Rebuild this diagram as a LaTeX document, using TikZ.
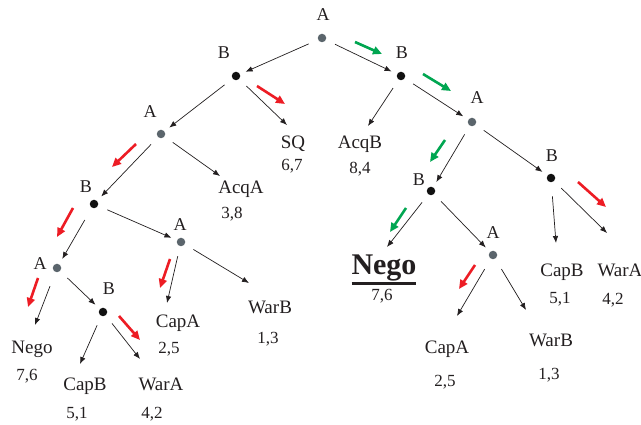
\documentclass[tikz,border=0pt]{standalone}
\usepackage{fontspec}
\setmainfont{Liberation Serif}
\usetikzlibrary{arrows.meta}
\definecolor{txt}{HTML}{231F20}
\definecolor{dotA}{HTML}{5B656C}
\definecolor{dotB}{HTML}{111111}
\definecolor{redarr}{HTML}{ED1C24}
\definecolor{greenarr}{HTML}{00A651}
\tikzset{
  adot/.style={circle,fill=dotA,inner sep=0pt,minimum size=8.5pt},
  bdot/.style={circle,fill=dotB,inner sep=0pt,minimum size=8.5pt},
  plab/.style={text=txt,font=\fontsize{18}{18}\selectfont,inner sep=0pt,anchor=base},
  leaf/.style={text=txt,font=\fontsize{19}{19}\selectfont,inner sep=0pt,anchor=base},
  pay/.style={text=txt,font=\fontsize{17}{17}\selectfont,inner sep=0pt,anchor=base},
  edge/.style={draw=txt,line width=0.7pt,-{Latex[length=7pt,width=5.5pt]},shorten <=10pt},
  todot/.style={shorten >=6pt},
  hint/.style={line width=2.6pt,-{Triangle[length=9pt,width=8pt]}},
  redhint/.style={hint,draw=redarr,color=redarr},
  greenhint/.style={hint,draw=greenarr,color=greenarr}
}
\begin{document}
\begin{tikzpicture}[x=1pt,y=-1pt]
\path[use as bounding box,fill=white] (0,0) rectangle (641,425);
% decision nodes
\node[adot] (root) at (322,38) {};
\node[bdot] (b1) at (236,76) {};
\node[bdot] (b2) at (401,76) {};
\node[adot] (a1) at (161,134) {};
\node[adot] (a2) at (472,122) {};
\node[bdot] (b3) at (94,204) {};
\node[adot] (a3) at (181,242) {};
\node[bdot] (b4) at (431,191) {};
\node[bdot] (b6) at (551,178) {};
\node[adot] (a4) at (57,268) {};
\node[bdot] (b5) at (103,312) {};
\node[adot] (a5) at (493,255) {};
% player labels
\node[plab] (lroot) at (323,21) {A};
\node[plab] (lb1) at (224,59) {B};
\node[plab] (lb2) at (402,59) {B};
\node[plab] (la1) at (150,118) {A};
\node[plab] (la2) at (477,104) {A};
\node[plab] (lb3) at (86,193) {B};
\node[plab] (la3) at (180,231) {A};
\node[plab] (lb4) at (419,186) {B};
\node[plab] (lb6) at (552,162) {B};
\node[plab] (la4) at (40,270) {A};
\node[plab] (lb5) at (109,295) {B};
\node[plab] (la5) at (493,239) {A};
% leaves
\node[leaf] (sq) at (293,149) {SQ};
\node[pay] (sqv) at (292,171) {6,7};
\node[leaf] (acqb) at (360,149) {AcqB};
\node[pay] (acqbv) at (360,174) {8,4};
\node[leaf] (acqa) at (241,194) {AcqA};
\node[pay] (acqav) at (232,219) {3,8};
\node[leaf] (negol) at (32,353) {Nego};
\node[pay] (negolv) at (27,381) {7,6};
\node[leaf] (capbl) at (85,391) {CapB};
\node[pay] (capblv) at (77,418) {5,1};
\node[leaf] (waral) at (161,391) {WarA};
\node[pay] (waralv) at (152,418) {4,2};
\node[leaf] (capal) at (178,327) {CapA};
\node[pay] (capalv) at (169,353) {2,5};
\node[leaf] (warbl) at (270,314) {WarB};
\node[pay] (warblv) at (268,344) {1,3};
\node[text=txt,font=\fontsize{30}{30}\selectfont\bfseries,inner sep=0pt,anchor=base] (negor) at (384,275)
  {\vtop{\hbox{Nego}\kern0.5pt\hrule height 2.7pt}};
\node[pay] (negorv) at (382,301) {7,6};
\node[leaf] (capar) at (447,353) {CapA};
\node[pay] (caparv) at (445,386) {2,5};
\node[leaf] (warbr) at (551,346) {WarB};
\node[pay] (warbrv) at (549,380) {1,3};
\node[leaf] (capbr) at (562,277) {CapB};
\node[pay] (capbrv) at (560,304) {5,1};
\node[leaf] (warar) at (620,277) {WarA};
\node[pay] (wararv) at (613,305) {4,2};
% arrow tips near leaves
\coordinate (tsq) at (287,125);
\coordinate (tacqb) at (368,126);
\coordinate (tacqa) at (220,176);
\coordinate (tnegol) at (35,325);
\coordinate (tcapbl) at (80,364);
\coordinate (twaral) at (140,359);
\coordinate (tcapal) at (167,303);
\coordinate (twarbl) at (249,283);
\coordinate (tnegor) at (387,247);
\coordinate (tcapar) at (457,316);
\coordinate (twarbr) at (526,310);
\coordinate (tcapbr) at (556,243);
\coordinate (twarar) at (607,233);
% edges
\draw[edge,todot] (root) -- (b1);
\draw[edge,todot] (root) -- (b2);
\draw[edge,todot] (b1) -- (a1);
\draw[edge] (b1) -- (tsq);
\draw[edge] (b2) -- (tacqb);
\draw[edge,todot] (b2) -- (a2);
\draw[edge,todot] (a1) -- (b3);
\draw[edge] (a1) -- (tacqa);
\draw[edge,todot,shorten <=14pt] (b3) -- (a4);
\draw[edge,todot] (b3) -- (a3);
\draw[edge,shorten <=15pt] (a4) -- (tnegol);
\draw[edge,todot] (a4) -- (b5);
\draw[edge] (b5) -- (tcapbl);
\draw[edge] (b5) -- (twaral);
\draw[edge] (a3) -- (tcapal);
\draw[edge] (a3) -- (twarbl);
\draw[edge,todot] (a2) -- (b4);
\draw[edge,todot] (a2) -- (b6);
\draw[edge] (b4) -- (tnegor);
\draw[edge,todot] (b4) -- (a5);
\draw[edge,shorten <=12pt] (a5) -- (tcapar);
\draw[edge,shorten <=12pt] (a5) -- (twarbr);
\draw[edge,shorten <=14pt] (b6) -- (tcapbr);
\draw[edge] (b6) -- (twarar);
% strategy hints
\draw[greenhint] (355,42) -- (382,54);
\draw[greenhint] (423,74) -- (451,91);
\draw[greenhint] (445,140) -- (430,162);
\draw[greenhint] (406,208) -- (390,232);
\draw[redhint] (257,86) -- (285,104);
\draw[redhint] (136,144) -- (112,167);
\draw[redhint] (73,208) -- (57,237);
\draw[redhint] (38,278) -- (28,307);
\draw[redhint] (119,316) -- (140,340);
\draw[redhint] (170,259) -- (160,288);
\draw[redhint] (475,265) -- (459,289);
\draw[redhint] (578,182) -- (606,207);
\end{tikzpicture}
\end{document}
